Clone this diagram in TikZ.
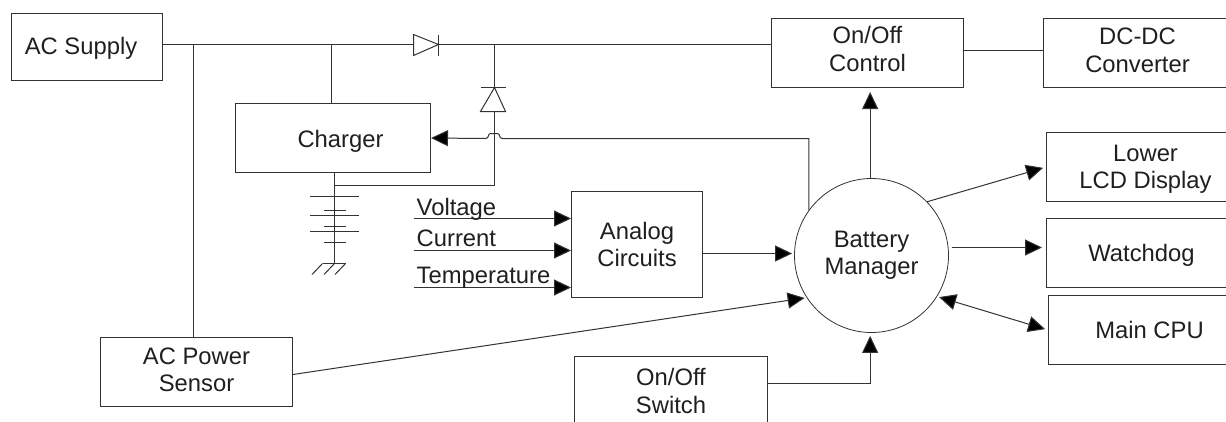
\documentclass[tikz,border=0pt]{standalone}
\usepackage{fontspec}
\setmainfont{Liberation Sans}
\usetikzlibrary{arrows.meta,calc}

\begin{document}
\begin{tikzpicture}[
  x=1pt, y=-1pt,
  every node/.style={font=\fontsize{23.8}{27.5}\selectfont, text=black!88},
  block/.style={rectangle, draw=black!80, line width=1pt, minimum width=192pt, minimum height=69pt, inner sep=0pt, align=center},
  manager/.style={circle, draw=black!80, line width=0.8pt, minimum size=154pt, inner sep=0pt, align=center},
  wire/.style={draw=black!80, line width=1pt},
  sig/.style={wire, -{Triangle[length=17pt,width=16pt,fill=black]}},
  sigboth/.style={wire, {Triangle[length=17pt,width=16pt,fill=black]}-{Triangle[length=17pt,width=16pt,fill=black]}},
  lbl/.style={anchor=base west, inner sep=0pt}
]
\clip (0.5,0.5) rectangle (1226.5,421.5);

% Blocks
\node[block, minimum width=151pt, minimum height=67pt] (acs) at (87.5,47.5) {\hspace*{-12pt}\raisebox{-1pt}[\height][\depth]{AC Supply}};
\node[block] (ctl) at (868,53.5) {\raisebox{1pt}[\height][\depth]{\begin{tabular}{@{}c@{}}On/Off\\Control\end{tabular}}};
\node[block, minimum width=188pt] (dcc) at (1138,53.5) {\begin{tabular}{@{}c@{}}DC-DC\\Converter\end{tabular}};
\node[block, minimum width=195pt] (chg) at (333.5,138.5) {\hspace*{15pt}\raisebox{-3pt}[\height][\depth]{Charger}};
\node[block, minimum width=131pt, minimum height=106pt] (ana) at (637.5,245) {Analog\\Circuits};
\node[block, minimum width=198pt] (lcd) at (1146,167.5) {\raisebox{-2.5pt}[\height][\depth]{\begin{tabular}{@{}c@{}}Lower\\LCD Display\end{tabular}}};
\node[block, minimum width=190pt] (wdg) at (1142,253.5) {\raisebox{-2pt}[\height][\depth]{Watchdog}};
\node[block, minimum width=202pt] (cpu) at (1150,330.5) {Main CPU};
\node[block] (sns) at (197,372) {\raisebox{-1pt}[\height][\depth]{\begin{tabular}{@{}c@{}}AC Power\\Sensor\end{tabular}}};
\node[block, minimum width=193pt] (swt) at (671.5,391.5) {On/Off\\Switch};
\node[manager] (bat) at (872,256) {Battery\\Manager};

% Supply rail
\coordinate (d1a) at (414,45);
\coordinate (d1c) at (439,45);
\coordinate (j1) at (194,45);
\coordinate (j2) at (332,45);
\coordinate (j3) at (495,45);
\draw[wire] (acs.east |- d1a) -- (d1a);
\draw[wire] (d1c) -- (ctl.west |- d1c);
\draw[wire] (j1) -- (j1 |- sns.north);
\draw[wire] (j2) -- (j2 |- chg.north);
\draw[wire] ([yshift=2.5pt]ctl.east) -- ([yshift=2.5pt]ctl.east -| dcc.west);

% Diodes
\draw[wire, line join=miter] (d1a |- 0,35) -- (d1a |- 0,56) -- (d1c) -- cycle;
\draw[wire] (d1c |- 0,35) -- (d1c |- 0,56);
\coordinate (d2c) at (495,88);
\coordinate (d2a) at (495,112);
\coordinate (b0) at (495,186);
\draw[wire] (j3) -- (d2c);
\draw[wire] (481,112) -- (506,112) -- (d2c) -- cycle;
\draw[wire] (481,88) -- (506,88);
\draw[wire] (d2a) -- (b0);

% Battery
\coordinate (b1) at (335,186);
\coordinate (gnd) at (335,264);
\draw[wire] (b0) -- (b1);
\draw[wire] (b1 |- chg.south) -- (gnd);
\foreach \y/\w in {197/24.5, 211/11, 216/24.5, 227/11, 232/24.5, 243/11} {
  \draw[wire] (335-\w,\y) -- (335+\w,\y);
}
\draw[wire] (323,264) -- (346,264);
\foreach \x in {323,335,346} {
  \draw[wire] (\x,264) -- (\x-10.5,275);
}

% Inputs
\foreach \y/\b/\name in {219/216/Voltage, 251/247/Current, 288/284/Temperature} {
  \coordinate (in\name) at (414,\y);
  \draw[sig] (in\name) -- (in\name -| ana.west);
  \node[lbl] (lbl\name) at (417,\b) {\name};
}

% Battery manager links
\coordinate (jr) at (503,139);
\coordinate (jl) at (486,139);
\draw[sig] (bat.144) |- (jr) .. controls (499,139) and (501,134) .. (498,134) -- (491,134) .. controls (488,134) and (490,139) .. (jl) -- (chg.east);
\draw[sig, shorten >=4pt] (bat.91) -- (bat.91 |- ctl.south);
\draw[sig, shorten >=2pt] ([yshift=-9pt]ana.east) -- ([yshift=-9pt]ana.east -| bat.west);
\draw[sig, shorten >=3pt] (bat.44) -- (lcd.west);
\draw[sig, shorten <=3pt, shorten >=4pt] ([yshift=8pt]bat.east) -- ([yshift=8pt]bat.east -| wdg.west);
\draw[sigboth, shorten <=2pt, shorten >=3pt] (bat.-32) -- (cpu.west);
\draw[sig, shorten >=2pt] ([yshift=-3pt]sns.east) -- (bat.213);
\draw[sig, shorten >=3pt] ([yshift=7.5pt]swt.east) -| (bat.269);
\end{tikzpicture}
\end{document}
